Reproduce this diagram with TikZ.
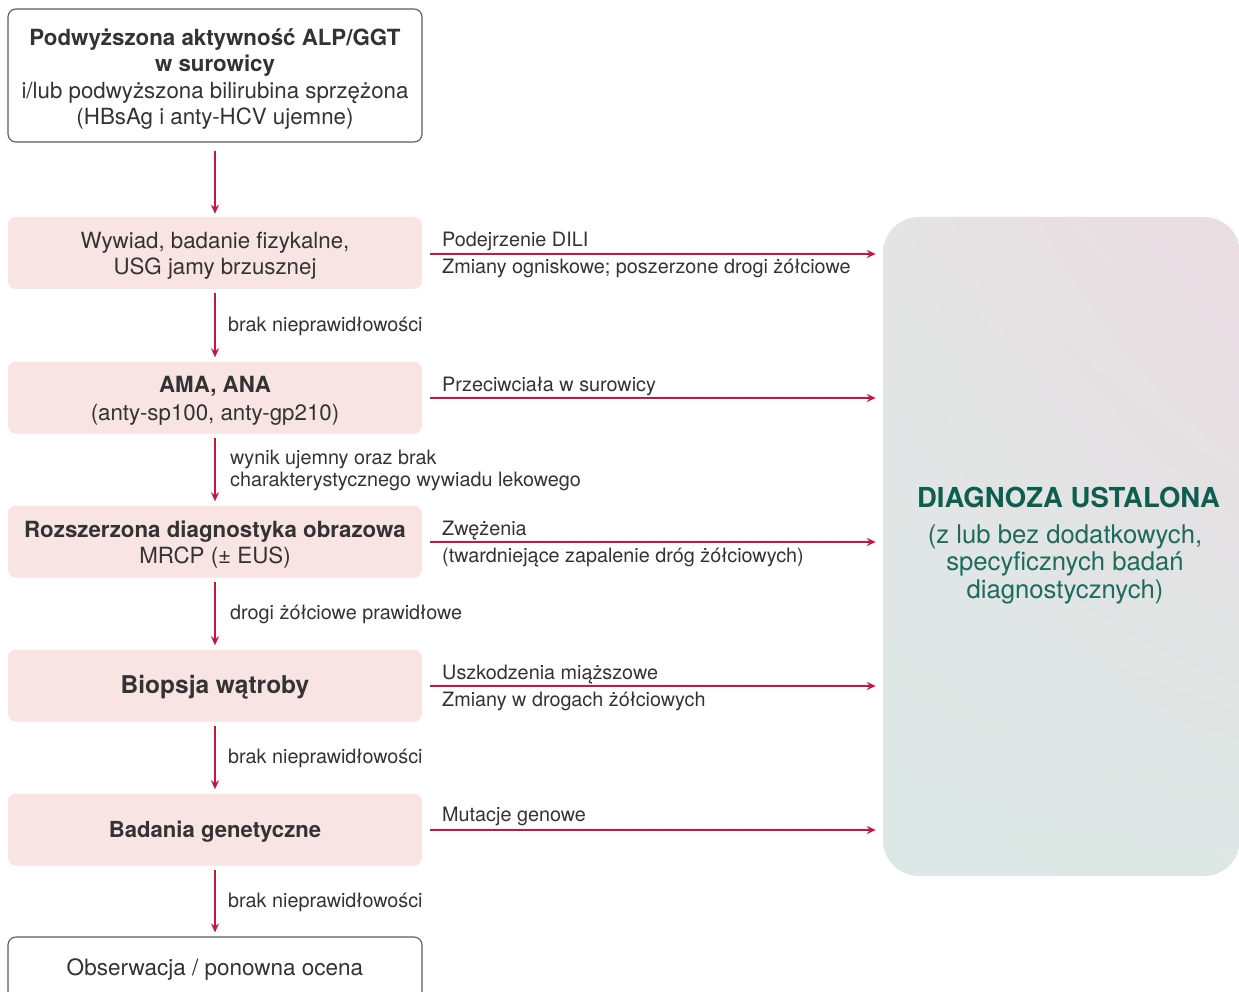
\documentclass[tikz,border=0pt]{standalone}
\usepackage{fontspec}
\setmainfont{TeX Gyre Heros}
\usetikzlibrary{arrows.meta,shadings}
\definecolor{flowred}{HTML}{C8173C}
\definecolor{boxpink}{HTML}{F8E4E2}
\definecolor{boxgrey}{HTML}{5A5A5A}
\definecolor{txtgrey}{HTML}{333333}
\definecolor{diagteal}{HTML}{0E5E50}
\definecolor{subteal}{HTML}{1C6B5D}
\definecolor{shTL}{HTML}{E4E4E4}
\definecolor{shTR}{HTML}{EBDCE2}
\definecolor{shBL}{HTML}{DCE8E6}
\definecolor{shBR}{HTML}{DDE8E5}
\tikzset{
  whitebox/.style={draw=boxgrey, line width=1.1pt, fill=white, rounded corners=8pt,
    minimum width=414pt},
  pinkbox/.style={fill=boxpink, rounded corners=8pt, minimum width=414pt,
    minimum height=72pt},
  boxtext/.style={align=center, text=txtgrey, inner sep=0pt,
    font=\fontsize{22.3}{26.4}\selectfont},
  flow/.style={draw=flowred, line width=1.5pt, -{Stealth[length=9pt,width=8pt]}},
  lbl/.style={text=txtgrey, font=\fontsize{19.8}{22}\selectfont, inner sep=0pt,
    anchor=base west},
  subline/.style={inner sep=0pt, anchor=base, text=subteal, font=\fontsize{25.7}{28}\selectfont},
}
\begin{document}
\begin{tikzpicture}[x=1pt,y=-1pt]
\useasboundingbox (0,0) rectangle (1239,992);
\clip (0,0) rectangle (1239,992);

% result panel on the right
\node[rounded corners=36pt, minimum width=357pt, minimum height=659pt,
  upper left=shTL, upper right=shTR, lower left=shBL, lower right=shBR, shade,
  inner sep=0pt] (diag) at (1061.5,546.5) {};
\node[inner sep=0pt, anchor=base, text=diagteal, font=\fontsize{27.5}{30}\selectfont\bfseries]
  (diagtitle) at (1068.5,507) {DIAGNOZA USTALONA};
\node[subline] (diagsub1) at (1065,543) {(z lub bez dodatkowych,};
\node[subline] (diagsub2) at (1065,570.5) {specyficznych badań};
\node[subline] (diagsub3) at (1065,598) {diagnostycznych)};

% diagnostic steps: frames
\node[whitebox, minimum height=133pt] (start) at (215,75.5) {};
\node[pinkbox] (hist) at (215,253) {};
\node[pinkbox] (ama) at (215,397.5) {};
\node[pinkbox] (img) at (215,541.5) {};
\node[pinkbox] (biop) at (215,685.5) {};
\node[pinkbox] (gen) at (215,829.5) {};
\node[whitebox, minimum height=62pt] (obs) at (215,968) {};

% diagnostic steps: texts
\node[boxtext] (startTxt) at (215,79)
  {\textbf{Podwyższona aktywność ALP/GGT}\\ \textbf{w surowicy}\\
   i/lub podwyższona bilirubina sprzężona\\ (HBsAg i anty-HCV ujemne)};
\node[boxtext] (histTxt) at (215,255.5) {Wywiad, badanie fizykalne,\\ USG jamy brzusznej};
\node[boxtext] (amaTxt) at (215,400.5)
  {\textbf{AMA, ANA}\\[1.5pt] (anty-sp100, anty-gp210)};
\node[boxtext] (imgTxt) at (215,544.5)
  {\textbf{Rozszerzona diagnostyka obrazowa}\\ MRCP (± EUS)};
\node[boxtext, font=\fontsize{24.5}{28}\selectfont\bfseries] (biopTxt) at (215,687.5) {Biopsja wątroby};
\node[boxtext, font=\fontsize{22.1}{26}\selectfont\bfseries] (genTxt) at (215,831.5) {Badania genetyczne};
\node[boxtext, font=\fontsize{22.5}{26}\selectfont] (obsTxt) at (215,970) {Obserwacja / ponowna ocena};

% downward path
\draw[flow, shorten <=8pt, shorten >=3pt] (start.south) -- (hist.north);
\draw[flow, shorten <=4pt, shorten >=4pt] (hist.south) -- (ama.north);
\draw[flow, shorten <=4pt, shorten >=4pt] (ama.south) -- (img.north);
\draw[flow, shorten <=4pt, shorten >=4pt] (img.south) -- (biop.north);
\draw[flow, shorten <=4pt, shorten >=4pt] (biop.south) -- (gen.north);
\draw[flow, shorten <=4pt, shorten >=4pt] (gen.south) -- (obs.north);

\node[lbl] (d1) at (228,331) {brak nieprawidłowości};
\node[lbl] (d2a) at (230,464) {wynik ujemny oraz brak};
\node[lbl] (d2b) at (230,486) {charakterystycznego wywiadu lekowego};
\node[lbl] (d3) at (230,619) {drogi żółciowe prawidłowe};
\node[lbl] (d4) at (228,763) {brak nieprawidłowości};
\node[lbl] (d5) at (228,907) {brak nieprawidłowości};

% branches to the result panel
\foreach \src/\yy in {hist/254, ama/398, img/542, biop/686, gen/830}{
  \draw[flow] (\src.east |- 0,\yy) ++(8,0) -- ([xshift=-7pt]diag.west |- 0,\yy);
}

\node[lbl] (r1a) at (442,247) {Podejrzenie DILI};
\node[lbl] (r1b) at (442,273) {Zmiany ogniskowe; poszerzone drogi żółciowe};
\node[lbl] (r2a) at (442,391) {Przeciwciała w surowicy};
\node[lbl] (r3a) at (442,535) {Zwężenia};
\node[lbl] (r3b) at (442,562) {(twardniejące zapalenie dróg żółciowych)};
\node[lbl] (r4a) at (442,679) {Uszkodzenia miąższowe};
\node[lbl] (r4b) at (442,706) {Zmiany w drogach żółciowych};
\node[lbl] (r5a) at (442,821) {Mutacje genowe};
\end{tikzpicture}
\end{document}
